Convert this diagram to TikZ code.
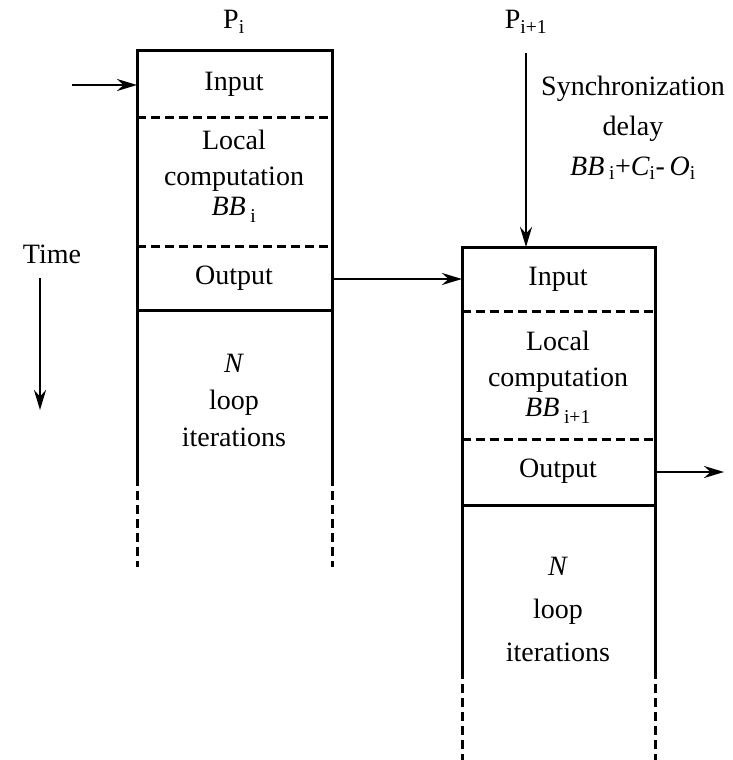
\documentclass[tikz,border=0pt]{standalone}
\usepackage{fontspec}
\setmainfont{Liberation Serif}
\usetikzlibrary{positioning, arrows.meta}

\begin{document}
\begin{tikzpicture}[x=1pt, y=-1pt, line width=3pt,
        txt/.style={font=\fontsize{28}{36}\selectfont, align=center, inner sep=0pt},
        arr/.style={line width=2.4pt, -{Stealth[length=20pt, width=12pt]}},
        dsh/.style={dash pattern=on 9pt off 5pt}]
        \useasboundingbox (0,0) rectangle (732,760);

        % processor P_i
        \draw (137,477) -- (137,51) -- (332,51) -- (332,477);
        \draw (137,310) -- (332,310);
        \draw[dsh] (137,117) -- (332,117)
            (137,246) -- (332,246)
            (137,477) -- (137,567)
            (332,477) -- (332,567);

        % processor P_i+1
        \draw (462,670) -- (462,247) -- (655,247) -- (655,670);
        \draw (462,505) -- (655,505);
        \draw[dsh] (462,311) -- (655,311)
            (462,439) -- (655,439)
            (462,670) -- (462,760)
            (655,670) -- (655,760);

        \node[txt] (pi) at (234,22) {P\textsubscript{i}};
        \node[txt] (pii) at (526,22) {P\textsubscript{i+1}};
        \node[txt] (inL) at (234,84) {Input};
        \node[txt] (locL) at (234,176) {Local\\computation\\[-6pt]\textit{BB}\,\raisebox{-3pt}{\textsubscript{i}}};
        \node[txt] (outL) at (234,278) {Output};
        \node[txt, font=\fontsize{28}{37}\selectfont] (loopL) at (234,400) {\textit{N}\\loop\\iterations};

        \node[txt] (inR) at (558,279) {Input};
        \node[txt] (locR) at (558,377) {Local\\computation\\[-6pt]\textit{BB}\,\raisebox{-3pt}{\textsubscript{i+1}}};
        \node[txt] (outR) at (558,471) {Output};
        \node[txt, font=\fontsize{28}{43}\selectfont] (loopR) at (558,609) {\textit{N}\\loop\\iterations};

        \node[txt, font=\fontsize{28}{40}\selectfont] (sync) at (633,128) {Synchronization\\delay\\\textit{BB}\,\textsubscript{i}+\textit{C}\textsubscript{i}-\,\textit{O}\textsubscript{i}};
        \node[txt] (time) at (52,254) {Time};

        \coordinate (inS) at (72,85);
        \coordinate (inE) at (137,85);
        \coordinate (outS) at (332,279);
        \coordinate (outE) at (462,279);
        \coordinate (syS) at (526,53);
        \coordinate (syE) at (526,247);
        \coordinate (rS) at (655,472);
        \coordinate (rE) at (724,472);
        \coordinate (tS) at (40,278);
        \coordinate (tE) at (40,410);

        \draw[arr] (inS) -- (inE);
        \draw[arr] (outS) -- (outE);
        \draw[arr] (syS) -- (syE);
        \draw[arr] (rS) -- (rE);
        \draw[arr] (tS) -- (tE);
\end{tikzpicture}
\end{document}
